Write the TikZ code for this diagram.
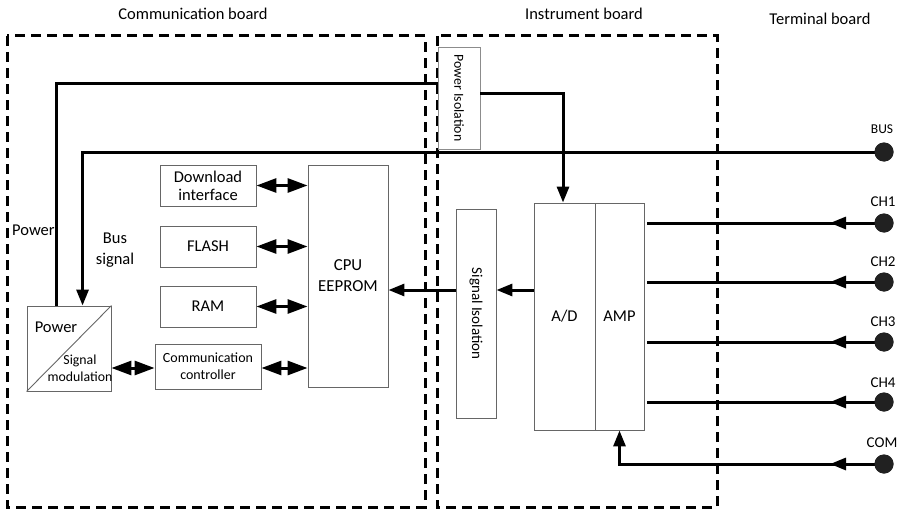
\documentclass[tikz,border=0pt]{standalone}
\usepackage{fontspec}
\setmainfont{Carlito}
\usetikzlibrary{arrows.meta,calc}
\begin{document}
\begin{tikzpicture}[x=1pt,y=-1pt,
  >={Triangle[length=16pt,width=12pt]},
  sig/.style={line width=3pt,line cap=butt},
  dbl/.style={line width=3pt,{Triangle[length=20pt,width=14pt]}-{Triangle[length=20pt,width=14pt]}},
  board/.style={line width=3pt,dash pattern=on 10pt off 6pt},
  box/.style={draw=black!60,line width=0.9pt,fill=white,inner sep=0pt,align=center,font=\fontsize{16.5}{20}\selectfont},
  lbl/.style={inner sep=0pt,align=center,font=\fontsize{16.5}{20}\selectfont},
  term/.style={circle,fill=black!87,minimum size=19pt,inner sep=0pt},
  tlbl/.style={inner sep=0pt,font=\fontsize{15}{18}\selectfont}]
\useasboundingbox (0,0) rectangle (904,511);
% board outlines
\draw[board] (7,36) rectangle (425,507);
\draw[board] (437,36) rectangle (717,507);
\node[lbl] (tcomm) at (193,14) {Communication board};
\node[lbl] (tinst) at (584,14) {Instrument board};
\node[lbl] (tterm) at (820,19) {Terminal board};
% blocks
\node[box,minimum width=42pt,minimum height=102pt,draw=black!45] (piso) at (459,98) {};
\node[rotate=-90,inner sep=0pt,font=\fontsize{13.8}{16}\selectfont] (pisot) at (piso.center) {Power Isolation};
\node[box,minimum width=96pt,minimum height=41pt,font=\fontsize{16.5}{18}\selectfont] (dl) at (208,185.5) {Download\\interface};
\node[box,minimum width=96pt,minimum height=41pt] (flash) at (208,246.5) {FLASH};
\node[box,minimum width=96pt,minimum height=41pt] (ram) at (208,306.5) {RAM};
\node[box,minimum width=106pt,minimum height=45pt,font=\fontsize{14}{17}\selectfont] (cc) at (208,366.5) {Communication\\controller};
\node[box,minimum width=80pt,minimum height=222pt,font=\fontsize{16.8}{21}\selectfont] (cpu) at (348,276) {CPU\\EEPROM};
\node[box,minimum width=84pt,minimum height=85pt] (pm) at (69,348.5) {};
\draw[black!60,line width=0.9pt] (pm.south west) -- (pm.north east);
\node[lbl] (pmp) at (56,327) {Power};
\node[inner sep=0pt,align=center,font=\fontsize{13.8}{17}\selectfont] (pms) at (80,368.5) {Signal\\modulation};
\node[box,minimum width=40pt,minimum height=209pt] (siso) at (476,313.5) {};
\node[rotate=-90,inner sep=0pt,font=\fontsize{15}{18}\selectfont] (sisot) at (siso.center) {Signal Isolation};
\node[box,minimum width=61pt,minimum height=227pt] (ad) at (564.5,316.5) {A/D};
\node[box,minimum width=49pt,minimum height=227pt] (amp) at (619.5,316.5) {AMP};
% side labels
\node[lbl,anchor=west] (lpow) at (12,230) {Power};
\node[lbl,font=\fontsize{16.5}{21}\selectfont] (lbus) at (115,250) {Bus\\signal};
% power and bus lines
\draw[sig] ([xshift=30pt]pm.north west) |- ([yshift=15pt]piso.west);
\draw[sig,->] ([yshift=5pt]piso.east) -| ([xshift=-1.5pt]ad.north);
% terminals
\node[term] (bus) at (884,152) {};
\node[term] (ch1) at (884,223) {};
\node[term] (ch2) at (884,282) {};
\node[term] (ch3) at (884,342) {};
\node[term] (ch4) at (884,402) {};
\node[term] (com) at (884,464) {};
\draw[sig,->] (bus.center) -| ([xshift=56pt]pm.north west);
\node[term] at (bus) {};
\node[tlbl,font=\fontsize{13.5}{16}\selectfont] (lb) at (882,129) {BUS};
\node[tlbl] (l1) at (883,202) {CH1};
\node[tlbl] (l2) at (883,262) {CH2};
\node[tlbl] (l3) at (883,322) {CH3};
\node[tlbl] (l4) at (883,383) {CH4};
\node[tlbl] (l5) at (882,443) {COM};
% channel lines
\foreach \c in {ch1,ch2,ch3,ch4}{
  \draw[sig] (\c.center) -- ([xshift=3pt]\c.center -| amp.east);
  \draw[sig,->] (\c.center) -- ([xshift=-54pt]\c.center);
  \node[term] at (\c) {};
}
\draw[sig,->] (com.center) -| (amp.south);
\draw[sig,->] (com.center) -- ([xshift=-54pt]com.center);
\node[term] at (com) {};
% signal path
\coordinate (sy) at ([yshift=26.5pt]ad.west);
\draw[sig,->] (sy) -- (sy -| siso.east);
\draw[sig,->] (sy -| siso.west) -- (sy -| cpu.east);
% bidirectional buses
\draw[dbl] (dl.east) -- (dl.east -| cpu.west);
\draw[dbl] (flash.east) -- (flash.east -| cpu.west);
\draw[dbl] (ram.east) -- (ram.east -| cpu.west);
\draw[dbl] ([yshift=-1.5pt]cc.east) -- ([yshift=-1.5pt]cc.east -| cpu.west);
\draw[dbl] ([yshift=-1.5pt]cc.west) -- ([yshift=-1.5pt]cc.west -| pm.east);
\end{tikzpicture}
\end{document}
